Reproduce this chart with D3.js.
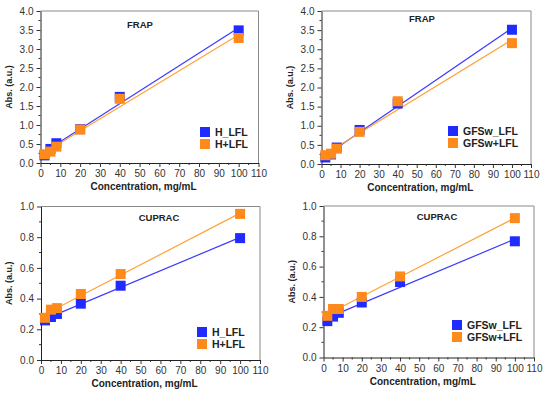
<!DOCTYPE html>
<html>
<head>
<meta charset="utf-8">
<script src="https://cdn.jsdelivr.net/npm/d3@7"></script>
<style>
  body { margin: 0; background: #fff; }
  svg { display: block; font-family: Arial, "Liberation Sans", sans-serif; }
</style>
</head>
<body>
<svg id="chart" width="550" height="394"></svg>
<script>
// Concentrations (mg/mL)
var conc = [2, 5, 8, 20, 40, 100];

// FRAP absorbances
var frapH_LFL = [0.20, 0.37, 0.52, 0.89, 1.74, 3.49];
var frapHplusLFL = [0.23, 0.30, 0.43, 0.88, 1.69, 3.29];
var frapGFSw_LFL = [0.17, 0.25, 0.43, 0.89, 1.58, 3.51];
var frapGFSwPlusLFL = [0.23, 0.27, 0.40, 0.84, 1.64, 3.16];

// CUPRAC absorbances
var cupracH_LFL = [0.258, 0.28, 0.30, 0.367, 0.484, 0.794];
var cupracHplusLFL = [0.275, 0.328, 0.338, 0.43, 0.56, 0.952];
var cupracGFSw_LFL = [0.24, 0.27, 0.295, 0.363, 0.498, 0.767];
var cupracGFSwPlusLFL = [0.275, 0.32, 0.32, 0.40, 0.535, 0.92];

// Tick labels
var xTicks = [0, 10, 20, 30, 40, 50, 60, 70, 80, 90, 100, 110];
var frapTicks = [0, 0.5, 1, 1.5, 2, 2.5, 3, 3.5, 4];
var cupracTicks = [0, 0.2, 0.4, 0.6, 0.8, 1.0];

var blue = '#1f2bff', orange = '#ff8a1c';
var blueLine = '#3b3bff', orangeLine = '#ffa23a';

var svg = d3.select('#chart');

// Least squares fit
function fit(xs, ys) {
    var mx = d3.mean(xs), my = d3.mean(ys);
    var sxy = d3.sum(xs, function(x, i) { return (x - mx) * (ys[i] - my); });
    var sxx = d3.sum(xs, function(x) { return (x - mx) * (x - mx); });
    var b = sxy / sxx;
    return { a: my - b * mx, b: b };
}

function drawPanel(p) {
    var x = d3.scaleLinear().domain([0, 110]).range([p.left, p.right]);
    var y = d3.scaleLinear().domain([0, p.ymax]).range([p.bottom, p.top]);
    var g = svg.append('g');

    // Top and right frame (grey)
    g.append('path')
        .attr('d', 'M' + p.left + ',' + p.top + 'H' + p.right + 'V' + p.bottom)
        .attr('fill', 'none')
        .attr('stroke', '#8a8a8a')
        .attr('stroke-width', 1);

    // Minor ticks
    var xMinor = d3.range(5, 110, 10);
    g.append('g').selectAll('line').data(xMinor).enter().append('line')
        .attr('x1', function(d) { return x(d); }).attr('x2', function(d) { return x(d); })
        .attr('y1', p.bottom).attr('y2', p.bottom + 2)
        .attr('stroke', '#333');
    var yMinor = p.yTicks.slice(0, -1).map(function(d, i) { return (d + p.yTicks[i + 1]) / 2; });
    g.append('g').selectAll('line').data(yMinor).enter().append('line')
        .attr('y1', function(d) { return y(d); }).attr('y2', function(d) { return y(d); })
        .attr('x1', p.left).attr('x2', p.left - 2)
        .attr('stroke', '#333');

    // Axes
    var xAxis = d3.axisBottom(x).tickValues(xTicks).tickSize(4).tickSizeOuter(0).tickPadding(3);
    var yAxis = d3.axisLeft(y).tickValues(p.yTicks).tickFormat(d3.format('.1f')).tickSize(4).tickSizeOuter(0).tickPadding(3);
    var xa = g.append('g').attr('transform', 'translate(0,' + p.bottom + ')').call(xAxis);
    var ya = g.append('g').attr('transform', 'translate(' + p.left + ',0)').call(yAxis);
    [xa, ya].forEach(function(a) {
        a.select('.domain').attr('stroke', '#222');
        a.selectAll('.tick line').attr('stroke', '#333');
        a.selectAll('.tick text').attr('font-size', 10).attr('fill', '#333')
            .attr('font-family', 'Arial, "Liberation Sans", sans-serif');
    });

    // Fit lines
    p.series.forEach(function(s) {
        var f = fit(conc, s.values);
        var x0 = d3.min(conc), x1 = d3.max(conc);
        g.append('line')
            .attr('x1', x(x0)).attr('y1', y(f.a + f.b * x0))
            .attr('x2', x(x1)).attr('y2', y(f.a + f.b * x1))
            .attr('stroke', s.line).attr('stroke-width', 1.2);
    });

    // Markers
    p.series.forEach(function(s) {
        g.append('g').selectAll('rect').data(s.values).enter().append('rect')
            .attr('x', function(d, i) { return x(conc[i]) - 5; })
            .attr('y', function(d) { return y(d) - 5; })
            .attr('width', 10).attr('height', 10)
            .attr('fill', s.color);
    });

    // Panel title
    g.append('text').attr('x', p.titleX).attr('y', p.titleY)
        .attr('text-anchor', 'middle').attr('font-weight', 'bold').attr('font-size', 9.5)
        .attr('fill', '#222').text(p.title);

    // Legend
    p.series.forEach(function(s, i) {
        var ly = p.legY + i * 12;
        g.append('rect').attr('x', p.legX - 5).attr('y', ly - 5).attr('width', 10).attr('height', 10)
            .attr('fill', s.color);
        g.append('text').attr('x', p.legX + 10).attr('y', ly + 4)
            .attr('font-weight', 'bold').attr('font-size', 10.5).attr('fill', '#222').text(s.name);
    });

    // Axis titles
    g.append('text').attr('x', (p.left + p.right) / 2 - 6).attr('y', p.bottom + 27)
        .attr('text-anchor', 'middle').attr('font-weight', 'bold').attr('font-size', 10)
        .attr('fill', '#222').text('Concentration, mg/mL');
    g.append('text')
        .attr('transform', 'translate(' + (p.left - 29) + ',' + ((p.top + p.bottom) / 2) + ') rotate(-90)')
        .attr('text-anchor', 'middle').attr('font-weight', 'bold').attr('font-size', 9)
        .attr('fill', '#222').text('Abs. (a.u.)');
}

drawPanel({
    left: 40.5, right: 258.5, top: 11, bottom: 163, ymax: 4, yTicks: frapTicks,
    title: 'FRAP', titleX: 140, titleY: 28, legX: 205, legY: 132,
    series: [
        { name: 'H_LFL', values: frapH_LFL, color: blue, line: blueLine },
        { name: 'H+LFL', values: frapHplusLFL, color: orange, line: orangeLine }
    ]
});

drawPanel({
    left: 321.5, right: 531, top: 11, bottom: 164, ymax: 4, yTicks: frapTicks,
    title: 'FRAP', titleX: 422, titleY: 22, legX: 453, legY: 131,
    series: [
        { name: 'GFSw_LFL', values: frapGFSw_LFL, color: blue, line: blueLine },
        { name: 'GFSw+LFL', values: frapGFSwPlusLFL, color: orange, line: orangeLine }
    ]
});

drawPanel({
    left: 41, right: 260, top: 206.5, bottom: 360, ymax: 1, yTicks: cupracTicks,
    title: 'CUPRAC', titleX: 159, titleY: 221, legX: 202, legY: 332,
    series: [
        { name: 'H_LFL', values: cupracH_LFL, color: blue, line: blueLine },
        { name: 'H+LFL', values: cupracHplusLFL, color: orange, line: orangeLine }
    ]
});

drawPanel({
    left: 323.5, right: 534, top: 206, bottom: 357.5, ymax: 1, yTicks: cupracTicks,
    title: 'CUPRAC', titleX: 437, titleY: 220, legX: 457, legY: 325,
    series: [
        { name: 'GFSw_LFL', values: cupracGFSw_LFL, color: blue, line: blueLine },
        { name: 'GFSw+LFL', values: cupracGFSwPlusLFL, color: orange, line: orangeLine }
    ]
});
</script>
</body>
</html>
